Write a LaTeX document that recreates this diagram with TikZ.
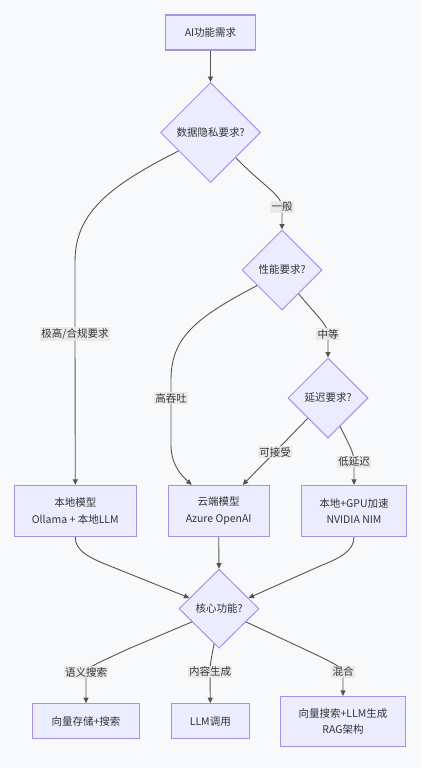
\documentclass[tikz,border=0pt]{standalone}
\usepackage{fontspec}
\setmainfont{Noto Sans CJK SC}
\usetikzlibrary{shapes.geometric,arrows.meta}
\definecolor{bgc}{HTML}{F8F9FB}
\definecolor{nfill}{HTML}{ECECFF}
\definecolor{nstroke}{HTML}{A891E6}
\definecolor{txt}{HTML}{333333}
\definecolor{edgec}{HTML}{555555}
\definecolor{lblbg}{HTML}{E8E8E8}
\newcommand{\myfs}{\fontsize{10.5}{16.7}\selectfont}
\begin{document}
\begin{tikzpicture}[x=1pt,y=-1pt,
 box/.style={draw=nstroke, fill=nfill, line width=1.2pt, rectangle, inner sep=0pt, align=center, text=txt, font=\myfs},
 dia/.style={draw=nstroke, fill=nfill, line width=1pt, diamond, inner sep=0pt, minimum width=80pt, minimum height=80pt, text=txt, font=\myfs},
 lbl/.style={fill=lblbg, fill opacity=0.85, text opacity=1, text=txt, inner sep=1.2pt, font=\myfs},
 conn/.style={draw=edgec, line width=0.9pt, -{Triangle[length=5.5pt,width=5pt]}}
]
\fill[bgc] (0,0) rectangle (421,768);
\useasboundingbox (0,0) rectangle (421,768);

\node[box, minimum width=89.5pt, minimum height=35pt] (top) at (210.5,32.5) {AI功能需求};
\node[dia, minimum width=100pt, minimum height=100pt] (d1) at (210.5,132.5) {数据隐私要求?};
\node[dia] (d2) at (282,270) {性能要求?};
\node[dia] (d3) at (328,398) {延迟要求?};
\node[box, minimum width=122pt, minimum height=51pt] (local) at (75.3,511) {本地模型\\Ollama + 本地LLM};
\node[box, minimum width=101pt, minimum height=51pt] (cloud) at (218.7,511) {云端模型\\Azure OpenAI};
\node[box, minimum width=105pt, minimum height=51pt] (gpu) at (354,511) {本地+GPU加速\\NVIDIA NIM};
\node[dia, minimum height=79pt] (core) at (219,608.7) {核心功能?};
\node[box, minimum width=107pt, minimum height=35pt] (vec) at (86,721.3) {向量存储+搜索};
\node[box, minimum width=78pt, minimum height=35pt] (llm) at (210.3,721.3) {LLM调用};
\node[box, minimum width=125pt, minimum height=50pt] (rag) at (343,721.5) {向量搜索+LLM生成\\RAG架构};

\draw[conn] (top) -- (d1);
\draw[conn] (d1.210) .. controls (105,188) and (75,215) .. (75,262) -- (75,334) node[lbl]{极高/合规要求} -- (local.north);
\draw[conn] (d1.-45) .. controls (262,185) and (282,195) .. (282,207) node[lbl]{一般} -- (d2.north);
\draw[conn] (d2.212) .. controls (195,318) and (171,338) .. (171,380) -- (171,398) node[lbl]{高吞吐} -- (171,445) .. controls (171,465) and (182,476) .. ([xshift=-27pt]cloud.north);
\draw[conn] (d2.-55) .. controls (316,315) and (328,325) .. (328,334) node[lbl]{中等} -- (d3.north);
\draw[conn] (d3.225) -- (275,452) node[lbl]{可接受} -- ([xshift=24pt]cloud.north);
\draw[conn] (d3.-67) .. controls (349,445) and (354,452) .. (354,462) node[lbl]{低延迟} -- (gpu.north);
\draw[conn] (local.south) .. controls (75,551) and (90,558) .. (110,566) -- (core.160);
\draw[conn] (cloud.south) -- (core.north);
\draw[conn] (gpu.south) .. controls (354,551) and (340,558) .. (320,566) -- (core.20);
\draw[conn] (core.206) -- (128,649) .. controls (98,663) and (86,668) .. (86,672) node[lbl]{语义搜索} -- (vec.north);
\draw[conn] (core.262) .. controls (211,660) and (210,665) .. (210,672) node[lbl]{内容生成} -- (llm.north);
\draw[conn] (core.-26) -- (304,649) .. controls (334,663) and (343,668) .. (343,672) node[lbl]{混合} -- (rag.north);
\end{tikzpicture}
\end{document}
